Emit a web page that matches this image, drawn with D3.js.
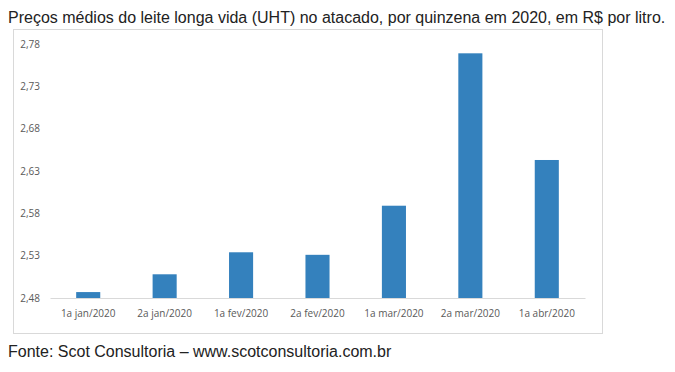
<!DOCTYPE html>
<html>
<head>
<meta charset="utf-8">
<script src="https://cdn.jsdelivr.net/npm/d3@7"></script>
<style>
  body { margin: 0; background: #fff; }
  .title, .fonte { font-family: "Liberation Sans", Arial, sans-serif; font-size: 16px; fill: #222; }
  .axis text { font-family: "Open Sans", "Noto Sans", sans-serif; font-size: 10px; fill: #595959; }
</style>
</head>
<body>
<div class="chart"></div>
<script>
// dados
const quinzenas = ['1a jan/2020', '2a jan/2020', '1a fev/2020', '2a fev/2020', '1a mar/2020', '2a mar/2020', '1a abr/2020']
const precos = [2.487, 2.508, 2.534, 2.531, 2.589, 2.769, 2.643]
const yTicks = [2.48, 2.53, 2.58, 2.63, 2.68, 2.73, 2.78]

const W = 675, H = 372
const margin = {top: 44, left: 50, right: 90, bottom: 74}
const width = W - margin.left - margin.right
const height = H - margin.top - margin.bottom

const svg = d3.select('.chart')
  .append('svg')
    .attr('width', W)
    .attr('height', H)

svg.append('text')
  .attr('class', 'title')
  .attr('x', 8)
  .attr('y', 23)
  .text('Preços médios do leite longa vida (UHT) no atacado, por quinzena em 2020, em R$ por litro.')

// moldura do grafico
svg.append('rect')
  .attr('x', 13.5)
  .attr('y', 29.5)
  .attr('width', 589)
  .attr('height', 304)
  .attr('fill', 'none')
  .attr('stroke', '#d9d9d9')

svg.append('text')
  .attr('class', 'fonte')
  .attr('x', 8)
  .attr('y', 357)
  .text('Fonte: Scot Consultoria – www.scotconsultoria.com.br')

const g = svg.append('g')
  .attr('transform', `translate(${margin.left}, ${margin.top})`)

const xScale = d3.scaleBand()
  .domain(quinzenas)
  .range([0, width])
  .paddingInner(0.685)
  .paddingOuter(0.3425)

const yScale = d3.scaleLinear()
  .domain([2.48, 2.78])
  .range([height, 0])

const fmt = d3.formatLocale({decimal: ',', thousands: '.', grouping: [3], currency: ['R$', '']}).format('.2f')

const yAxis = d3.axisLeft(yScale)
  .tickValues(yTicks)
  .tickFormat(fmt)
  .tickSize(0)
  .tickPadding(10)

g.append('g')
  .attr('class', 'axis')
  .call(yAxis)
  .call(s => s.select('.domain').remove())

g.selectAll('.bar')
  .data(precos)
  .enter()
  .append('rect')
    .attr('class', 'bar')
    .attr('x', (d, i) => xScale(quinzenas[i]))
    .attr('y', d => yScale(d))
    .attr('width', xScale.bandwidth())
    .attr('height', d => height - yScale(d))
    .attr('fill', '#3481bd')

const xAxis = d3.axisBottom(xScale)
  .tickSize(0)
  .tickPadding(12)

g.append('g')
  .attr('class', 'axis')
  .attr('transform', `translate(0, ${height})`)
  .call(xAxis)
  .call(s => s.select('.domain').attr('stroke', '#d9d9d9'))
</script>
</body>
</html>
